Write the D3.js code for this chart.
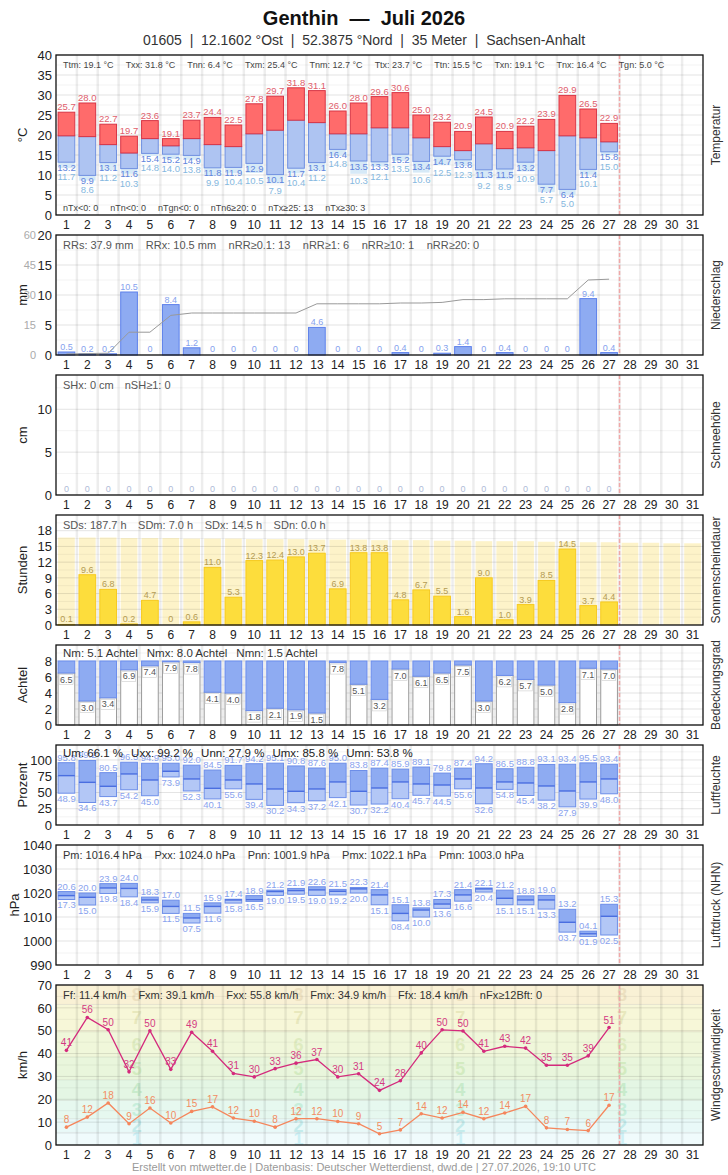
<!DOCTYPE html>
<html>
<head>
<meta charset="utf-8">
<script src="https://cdn.jsdelivr.net/npm/d3@7"></script>
<style>
  body { margin: 0; background: #fff; }
  svg text { font-family: "Liberation Sans", Arial, sans-serif; white-space: pre; }
</style>
</head>
<body>
<svg id="chart" width="728" height="1175"></svg>
<script>
const DAYS = [1,2,3,4,5,6,7,8,9,10,11,12,13,14,15,16,17,18,19,20,21,22,23,24,25,26,27,28,29,30,31];

// Temperatur (°C)
const TX = [25.7,28.0,22.7,19.7,23.6,19.1,23.7,24.4,22.5,27.8,29.7,31.8,31.1,26.0,28.0,29.6,30.6,25.0,23.2,20.9,24.5,20.9,22.2,23.9,29.9,26.5,22.9];
const TM = [19.8,19.6,17.6,15.5,19.1,17.3,19.1,17.6,17.1,20.3,21.2,23.7,23.1,20.3,20.3,21.8,21.8,19.3,17.1,16.1,17.8,16.6,16.8,16.1,19.8,19.3,18.3];
const TN = [13.2,9.9,13.1,11.6,15.4,15.2,14.9,11.8,11.9,12.9,10.1,11.7,13.1,16.4,13.5,13.3,15.2,13.4,14.7,13.8,11.3,11.5,13.2,7.7,6.4,11.4,15.8];
const TG = [11.7,8.6,11.2,10.3,14.8,14.0,13.8,9.9,10.4,10.5,7.9,10.4,11.2,14.8,10.3,12.1,13.5,10.6,12.5,12.3,9.2,8.9,10.9,5.7,5.0,10.1,15.0];
const T_TICKS = [0,5,10,15,20,25,30,35,40];
const T_STATS = ['Ttm: 19.1 °C','Txx: 31.8 °C','Tnn: 6.4 °C','Txm: 25.4 °C','Tnm: 12.7 °C','Ttx: 23.7 °C','Ttn: 15.5 °C','Txn: 19.1 °C','Tnx: 16.4 °C','Tgn: 5.0 °C'];
const T_COUNTS = ['nTx<0: 0','nTn<0: 0','nTgn<0: 0','nTn6≥20: 0','nTx≥25: 13','nTx≥30: 3'];

// Niederschlag (mm)
const RR = [0.5,0.2,0.2,10.5,0,8.4,1.2,0,0,0,0,0,4.6,0,0,0,0.4,0,0.3,1.4,0,0.4,0,0,0,9.4,0.4];
const RR_TICKS = [0,5,10,15,20];
const RR_SUM_TICKS = [0,15,30,45,60];
const RR_STATS = ['RRs: 37.9 mm','RRx: 10.5 mm','nRR≥0.1: 13','nRR≥1: 6','nRR≥10: 1','nRR≥20: 0'];

// Schneehöhe (cm)
const SH = [0,0,0,0,0,0,0,0,0,0,0,0,0,0,0,0,0,0,0,0,0,0,0,0,0,0,0];
const SH_TICKS = [0,5,10];
const SH_STATS = ['SHx: 0 cm','nSH≥1: 0'];

// Sonnenscheindauer (h)
const SD = [0.1,9.6,6.8,0.2,4.7,0,0.6,11.0,5.3,12.3,12.4,13.0,13.7,6.9,13.8,13.8,4.8,6.7,5.5,1.6,9.0,1.0,3.9,8.5,14.5,3.7,4.4];
const SD_POSSIBLE = [16.7,16.7,16.7,16.6,16.6,16.6,16.5,16.5,16.5,16.4,16.4,16.4,16.3,16.3,16.3,16.2,16.2,16.2,16.1,16.1,16.0,16.0,16.0,15.9,15.9,15.8,15.8,15.7,15.7,15.6,15.6];
const SD_TICKS = [0,3,6,9,12,15,18];
const SD_STATS = ['SDs: 187.7 h','SDm: 7.0 h','SDx: 14.5 h','SDn: 0.0 h'];

// Bedeckungsgrad (Achtel)
const NN = [6.5,3.0,3.4,6.9,7.4,7.9,7.8,4.1,4.0,1.8,2.1,1.9,1.5,7.8,5.1,3.2,7.0,6.1,6.5,7.5,3.0,6.2,5.7,5.0,2.8,7.1,7.0];
const NN_TICKS = [0,2,4,6,8];
const NN_STATS = ['Nm: 5.1 Achtel','Nmx: 8.0 Achtel','Nmn: 1.5 Achtel'];

// Luftfeuchte (%)
const U_MAX = [95.8,99.2,80.5,96.5,94.9,95.0,92.0,84.5,91.7,94.2,95.1,90.8,87.6,95.0,83.8,87.4,85.9,89.1,79.8,87.4,94.2,86.5,88.8,93.1,93.4,95.5,93.4];
const U_MEAN = [75.9,65.6,59.5,78.5,69.2,82.6,70.8,56.4,69.2,63.1,55.4,51.8,55.4,66.2,51.8,56.9,66.2,63.1,61.5,70.8,56.9,66.2,64.6,60.0,52.3,66.2,70.8];
const U_MIN = [48.9,34.6,43.7,54.2,45.0,73.9,52.3,40.1,55.6,39.4,30.2,34.3,37.2,42.1,30.7,32.2,40.4,45.7,44.5,55.6,32.6,54.8,45.4,38.2,27.9,39.9,48.0];
const U_TICKS = [0,25,50,75,100];
const U_STATS = ['Um: 66.1 %','Uxx: 99.2 %','Unn: 27.9 %','Umx: 85.8 %','Umn: 53.8 %'];

// Luftdruck (hPa)
const P_MAX = [1020.6,1020.0,1023.9,1024.0,1018.3,1017.0,1011.5,1015.9,1017.4,1018.9,1021.2,1021.9,1022.6,1021.5,1022.3,1021.4,1015.1,1013.8,1017.3,1021.4,1022.1,1021.2,1018.8,1019.0,1013.2,1004.1,1015.3];
const P_MEAN = [1018.9,1018.2,1022.1,1021.9,1017.1,1014.4,1009.6,1014.4,1017.1,1017.2,1020.6,1021.0,1021.3,1020.7,1021.7,1019.2,1011.5,1012.9,1015.4,1019.2,1021.7,1017.8,1017.1,1017.1,1007.8,1003.0,1010.3];
const P_MIN = [1017.3,1015.0,1019.8,1018.4,1015.9,1011.5,1007.5,1011.6,1015.8,1016.5,1019.0,1019.5,1019.0,1019.2,1020.0,1015.1,1008.4,1010.0,1013.6,1016.6,1020.4,1015.1,1015.1,1013.3,1003.7,1001.9,1002.5];
const P_TICKS = [990,1000,1010,1020,1030,1040];
const P_STATS = ['Pm: 1016.4 hPa','Pxx: 1024.0 hPa','Pnn: 1001.9 hPa','Pmx: 1022.1 hPa','Pmn: 1003.0 hPa'];

// Wind (km/h)
const FX = [41.4,55.8,50.4,32.0,50.0,33.1,49.3,41.0,31.3,29.8,33.4,35.8,37.4,29.8,31.2,23.9,28.1,40.3,50.4,49.9,41.0,43.2,42.4,34.9,34.9,39.0,51.4];
const FF = [7.8,12.2,18.4,9.3,16.2,9.6,14.7,16.7,11.8,10.4,7.8,11.5,11.5,10.3,9.3,4.9,6.6,13.7,11.8,14.3,11.5,14.0,16.9,7.5,6.8,6.3,17.4];
const F_TICKS = [0,10,20,30,40,50,60,70];
const BFT = [1,2,3,4,5,6,7,8];
const BFT_LIMITS = [0,5.5,11.5,19.5,28.5,38.5,49.5,61.5,70];
const BFT_FILL = ['#f0fbfc','#e9f9f8','#e6f8ef','#e4f6e4','#e9f6dc','#f0f7da','#f7f7d8','#f9f1d5'];
const BFT_DIGIT = ['#cdf0f5','#c4ebeb','#c6eedb','#c8ebcb','#d3ebc0','#deebc0','#e8e8bd','#ece0c0'];
const F_STATS = ['Ff: 11.4 km/h','Fxm: 39.1 km/h','Fxx: 55.8 km/h','Fmx: 34.9 km/h','Ffx: 18.4 km/h','nFx≥12Bft: 0'];

const svg = d3.select('#chart');
const X0 = 56, X1 = 703;
const x = d3.scaleBand().domain(DAYS).range([X0, X1]);
const BW = x.bandwidth() * 0.8;
const bl = d => x(d) + (x.bandwidth() - BW) / 2;
const cx = d => x(d) + x.bandwidth() / 2;
const measured = DAYS.slice(0, TX.length);

function panel(top, bottom, domain, ticks, unit, title, unitX = 27) {
  const y = d3.scaleLinear().domain(domain).range([bottom, top]);
  const g = svg.append('g');
  g.append('rect').attr('x', X0).attr('y', top).attr('width', X1 - X0).attr('height', bottom - top).attr('fill', '#fff');
  const back = g.append('g');
  // minor + major grid
  const step = ticks[1] - ticks[0];
  const minor = d3.range(domain[0] + step / 2, domain[1], step);
  g.append('g').selectAll('line').data(minor).join('line')
    .attr('x1', X0).attr('x2', X1).attr('y1', d => y(d)).attr('y2', d => y(d))
    .attr('stroke', 'rgba(0,0,0,0.05)');
  g.append('g').selectAll('line').data(ticks).join('line')
    .attr('x1', X0).attr('x2', X1).attr('y1', d => y(d)).attr('y2', d => y(d))
    .attr('stroke', 'rgba(0,0,0,0.11)');
  g.append('g').selectAll('line').data(DAYS.slice(1)).join('line')
    .attr('x1', d => x(d)).attr('x2', d => x(d)).attr('y1', top).attr('y2', bottom)
    .attr('stroke', 'rgba(0,0,0,0.07)').attr('stroke-width', 2.5);
  // heute
  g.append('line').attr('x1', x(28)).attr('x2', x(28)).attr('y1', top).attr('y2', bottom)
    .attr('stroke', '#f0a8a8').attr('stroke-width', 1.5).attr('stroke-dasharray', '4,2');
  const marks = g.append('g');
  const front = g.append('g');
  front.append('rect').attr('x', X0).attr('y', top).attr('width', X1 - X0).attr('height', bottom - top)
    .attr('fill', 'none').attr('stroke', '#111').attr('stroke-width', 1.3);

  const ya = g.append('g').attr('transform', `translate(${X0},0)`)
    .call(d3.axisLeft(y).tickValues(ticks).tickFormat(d3.format('d')).tickSize(0).tickPadding(4));
  ya.select('.domain').remove();
  ya.selectAll('text').attr('font-size', 13).attr('fill', '#222').style('font-family', null);
  const xa = g.append('g').attr('transform', `translate(0,${bottom})`)
    .call(d3.axisBottom(x).tickSize(0).tickPadding(5));
  xa.select('.domain').remove();
  xa.selectAll('text').attr('font-size', 12).attr('fill', '#222').style('font-family', null);
  g.append('text').attr('transform', `translate(${unitX},${(top + bottom) / 2}) rotate(-90)`)
    .attr('text-anchor', 'middle').attr('font-size', 13).attr('fill', '#222').text(unit);
  g.append('text').attr('transform', `translate(720,${(top + bottom) / 2}) rotate(-90)`)
    .attr('text-anchor', 'middle').attr('font-size', 12).attr('fill', '#333').text(title);
  return { y, back, marks, front };
}

function stats(layer, items, y, size, gap, color) {
  let xx = 63;
  items.forEach(s => {
    const t = layer.append('text').attr('x', xx).attr('y', y).attr('font-size', size).attr('fill', color).text(s);
    xx += t.node().getComputedTextLength() + gap;
  });
}

function label(layer, xx, yy, txt, color, size = 9, anchor = 'middle') {
  layer.append('text').attr('x', xx).attr('y', yy).attr('text-anchor', anchor)
    .attr('font-size', size).attr('fill', color).text(txt);
}

const f1 = d3.format('.1f');
const fRR = v => v === 0 ? '0' : f1(v);

// ---------- Titel
svg.append('text').attr('x', 364).attr('y', 25).attr('text-anchor', 'middle')
  .attr('font-size', 20).attr('font-weight', 'bold').attr('fill', '#111').text('Genthin  —  Juli 2026');
svg.append('text').attr('x', 364).attr('y', 45).attr('text-anchor', 'middle')
  .attr('font-size', 14).attr('fill', '#333')
  .text('01605  |  12.1602 °Ost  |  52.3875 °Nord  |  35 Meter  |  Sachsen-Anhalt');

// ---------- Temperatur
{
  const p = panel(55, 215, [0, 40], T_TICKS, '°C', 'Temperatur');
  const y = p.y;
  measured.forEach((d, i) => {
    if (TG[i] < TN[i]) {
      p.marks.append('rect').attr('x', bl(d)).attr('width', BW)
        .attr('y', y(TN[i])).attr('height', y(TG[i]) - y(TN[i])).attr('fill', '#d6e9f7');
    }
    p.marks.append('rect').attr('x', bl(d)).attr('width', BW)
      .attr('y', y(TM[i])).attr('height', y(TN[i]) - y(TM[i]))
      .attr('fill', '#aec4f2').attr('stroke', '#6f90e0');
    p.marks.append('rect').attr('x', bl(d)).attr('width', BW)
      .attr('y', y(TX[i])).attr('height', y(TM[i]) - y(TX[i]))
      .attr('fill', '#ff6b6b').attr('stroke', '#d83545');
    const tnC = y(TN[i]) + 5;
    const tgC = Math.max(y(TG[i]) + 7, tnC + 9.5);
    label(p.marks, cx(d), y(TX[i]) - 2, f1(TX[i]), '#e0606c', 9.5);
    label(p.marks, cx(d), tnC + 3.5, f1(TN[i]), '#5f84dc', 9.5);
    label(p.marks, cx(d), tgC + 3.5, f1(TG[i]), '#86b8e0', 9.5);
  });
  stats(p.front, T_STATS, 68, 9, 12, '#444');
  stats(p.front, T_COUNTS, 211, 9, 12, '#444');
}

// ---------- Niederschlag
{
  const p = panel(235, 355, [0, 20], RR_TICKS, 'mm', 'Niederschlag');
  const y = p.y;
  const ySum = d3.scaleLinear().domain([0, 60]).range([355, 235]);
  RR_SUM_TICKS.forEach(v => label(p.front, 36, ySum(v) + 4, v, '#aaa', 11, 'end'));
  measured.forEach((d, i) => {
    if (RR[i] > 0) {
      p.marks.append('rect').attr('x', bl(d)).attr('width', BW)
        .attr('y', y(RR[i])).attr('height', y(0) - y(RR[i]))
        .attr('fill', '#8eabf2').attr('stroke', '#5d80ea');
    }
    label(p.marks, cx(d), RR[i] > 0 ? y(RR[i]) - 2 : 352, fRR(RR[i]), '#86a2ee', 9);
  });
  const cum = Array.from(d3.cumsum(RR));
  p.marks.append('path').datum(cum)
    .attr('d', d3.line().x((v, i) => cx(measured[i])).y(v => ySum(v)))
    .attr('fill', 'none').attr('stroke', '#999').attr('stroke-width', 1);
  stats(p.front, RR_STATS, 249, 11, 12.5, '#555');
}

// ---------- Schneehöhe
{
  const p = panel(375, 495, [0, 14], SH_TICKS, 'cm', 'Schneehöhe');
  measured.forEach((d, i) => label(p.marks, cx(d), 492, SH[i], '#b0bcd8', 9));
  stats(p.front, SH_STATS, 389, 11, 11, '#555');
}

// ---------- Sonnenscheindauer
{
  const p = panel(515, 625, [0, 21], SD_TICKS, 'Stunden', 'Sonnenscheindauer');
  const y = p.y;
  DAYS.forEach((d, i) => {
    p.back.append('rect').attr('x', bl(d)).attr('width', BW)
      .attr('y', y(SD_POSSIBLE[i])).attr('height', y(0) - y(SD_POSSIBLE[i]))
      .attr('fill', '#fdf1c0').attr('opacity', 0.85);
  });
  measured.forEach((d, i) => {
    if (SD[i] > 0) {
      p.marks.append('rect').attr('x', bl(d)).attr('width', BW)
        .attr('y', y(SD[i])).attr('height', y(0) - y(SD[i]))
        .attr('fill', '#fddd3c').attr('stroke', '#f6ca20');
    }
    label(p.marks, cx(d), SD[i] > 0.4 ? y(SD[i]) - 2 : 622, SD[i] === 0 ? '0' : f1(SD[i]), '#b49b52', 9);
  });
  stats(p.front, SD_STATS, 529, 11, 11.5, '#555');
}

// ---------- Bedeckungsgrad
{
  const p = panel(645, 725, [0, 10], NN_TICKS, 'Achtel', 'Bedeckungsgrad');
  const y = p.y;
  measured.forEach((d, i) => {
    p.marks.append('rect').attr('x', bl(d)).attr('width', BW)
      .attr('y', y(NN[i])).attr('height', y(0) - y(NN[i]))
      .attr('fill', '#fff').attr('stroke', '#999');
    p.marks.append('rect').attr('x', bl(d)).attr('width', BW)
      .attr('y', y(8)).attr('height', y(NN[i]) - y(8))
      .attr('fill', '#8eabf2').attr('stroke', '#6b8ded');
    p.marks.append('rect').attr('x', bl(d) + 1).attr('y', y(NN[i]) + 1.5).attr('width', 14).attr('height', 10)
      .attr('fill', '#fff').attr('stroke', '#ccc').attr('stroke-width', 0.6);
    label(p.marks, bl(d) + 2, y(NN[i]) + 9.5, f1(NN[i]), '#555', 9, 'start');
  });
  stats(p.front, NN_STATS, 657, 11.5, 9, '#333');
}

// ---------- Luftfeuchte
{
  const p = panel(745, 825, [0, 123], U_TICKS, 'Prozent', 'Luftfeuchte');
  const y = p.y;
  measured.forEach((d, i) => {
    p.marks.append('rect').attr('x', bl(d)).attr('width', BW)
      .attr('y', y(U_MEAN[i])).attr('height', y(U_MIN[i]) - y(U_MEAN[i])).attr('fill', '#b3c7f6');
    p.marks.append('rect').attr('x', bl(d)).attr('width', BW)
      .attr('y', y(U_MAX[i])).attr('height', y(U_MEAN[i]) - y(U_MAX[i])).attr('fill', '#8eabf2');
    p.marks.append('rect').attr('x', bl(d)).attr('width', BW)
      .attr('y', y(U_MAX[i])).attr('height', y(U_MIN[i]) - y(U_MAX[i]))
      .attr('fill', 'none').attr('stroke', '#6d8ee8');
    p.marks.append('line').attr('x1', bl(d)).attr('x2', bl(d) + BW)
      .attr('y1', y(U_MEAN[i])).attr('y2', y(U_MEAN[i])).attr('stroke', '#4a6ee0').attr('stroke-width', 1.4);
    label(p.marks, cx(d), y(U_MAX[i]) - 2, f1(U_MAX[i]), '#8aa3ee', 9.5);
    label(p.marks, cx(d), y(U_MIN[i]) + 9, f1(U_MIN[i]), '#8aa3ee', 9.5);
  });
  stats(p.front, U_STATS, 757, 11.5, 8, '#222');
}

// ---------- Luftdruck
{
  const p = panel(845, 965, [990, 1040], P_TICKS, 'hPa', 'Luftdruck (NHN)', 19);
  const y = p.y;
  const fp = v => d3.format('04.1f')(v % 100);
  measured.forEach((d, i) => {
    p.marks.append('rect').attr('x', bl(d)).attr('width', BW)
      .attr('y', y(P_MEAN[i])).attr('height', y(P_MIN[i]) - y(P_MEAN[i])).attr('fill', '#b3c7f6');
    p.marks.append('rect').attr('x', bl(d)).attr('width', BW)
      .attr('y', y(P_MAX[i])).attr('height', y(P_MEAN[i]) - y(P_MAX[i])).attr('fill', '#8eabf2');
    p.marks.append('rect').attr('x', bl(d)).attr('width', BW)
      .attr('y', y(P_MAX[i])).attr('height', y(P_MIN[i]) - y(P_MAX[i]))
      .attr('fill', 'none').attr('stroke', '#6d8ee8');
    p.marks.append('line').attr('x1', bl(d)).attr('x2', bl(d) + BW)
      .attr('y1', y(P_MEAN[i])).attr('y2', y(P_MEAN[i])).attr('stroke', '#4a6ee0').attr('stroke-width', 1.4);
    label(p.marks, cx(d), y(P_MAX[i]) - 2, fp(P_MAX[i]), '#8aa3ee', 9.5);
    label(p.marks, cx(d), y(P_MIN[i]) + 9, fp(P_MIN[i]), '#8aa3ee', 9.5);
  });
  stats(p.front, P_STATS, 859, 11, 12.5, '#333');
}

// ---------- Windgeschwindigkeit
{
  const p = panel(985, 1145, [0, 70], F_TICKS, 'km/h', 'Windgeschwindigkeit');
  const y = p.y;
  BFT.forEach((b, i) => {
    p.back.append('rect').attr('x', X0).attr('width', X1 - X0)
      .attr('y', y(BFT_LIMITS[i + 1])).attr('height', y(BFT_LIMITS[i]) - y(BFT_LIMITS[i + 1]))
      .attr('fill', BFT_FILL[i]);
    if (i > 0) {
      p.back.append('line').attr('x1', X0).attr('x2', X1)
        .attr('y1', y(BFT_LIMITS[i])).attr('y2', y(BFT_LIMITS[i])).attr('stroke', 'rgba(0,0,0,0.08)');
    }
    [0, 1, 2, 3].forEach(k => {
      p.back.append('text').attr('x', X0 + (X1 - X0) * (k / 4 + 1 / 8))
        .attr('y', y((BFT_LIMITS[i] + BFT_LIMITS[i + 1]) / 2)).attr('dy', '0.35em')
        .attr('text-anchor', 'middle').attr('font-size', 18).attr('font-weight', 'bold')
        .attr('fill', BFT_DIGIT[i]).text(b);
    });
  });
  const line = d3.line().x((v, i) => cx(measured[i])).y(v => y(v));
  [[FF, '#f5865c', '#f28c62'], [FX, '#d42a7c', '#d43a82']].forEach(([vals, col, lc]) => {
    p.marks.append('path').datum(vals).attr('d', line)
      .attr('fill', 'none').attr('stroke', col).attr('stroke-width', 1.3);
    p.marks.selectAll(null).data(vals).join('circle')
      .attr('cx', (v, i) => cx(measured[i])).attr('cy', v => y(v)).attr('r', 1.8).attr('fill', col);
    vals.forEach((v, i) => label(p.marks, cx(measured[i]), y(v) - 4, Math.round(v), lc, 10));
  });
  stats(p.front, F_STATS, 999, 11, 12, '#333');
}

// ---------- Fußzeile
svg.append('text').attr('x', 364).attr('y', 1171).attr('text-anchor', 'middle')
  .attr('font-size', 11).attr('fill', '#999')
  .text('Erstellt von mtwetter.de | Datenbasis: Deutscher Wetterdienst, dwd.de | 27.07.2026, 19:10 UTC');
</script>
</body>
</html>
